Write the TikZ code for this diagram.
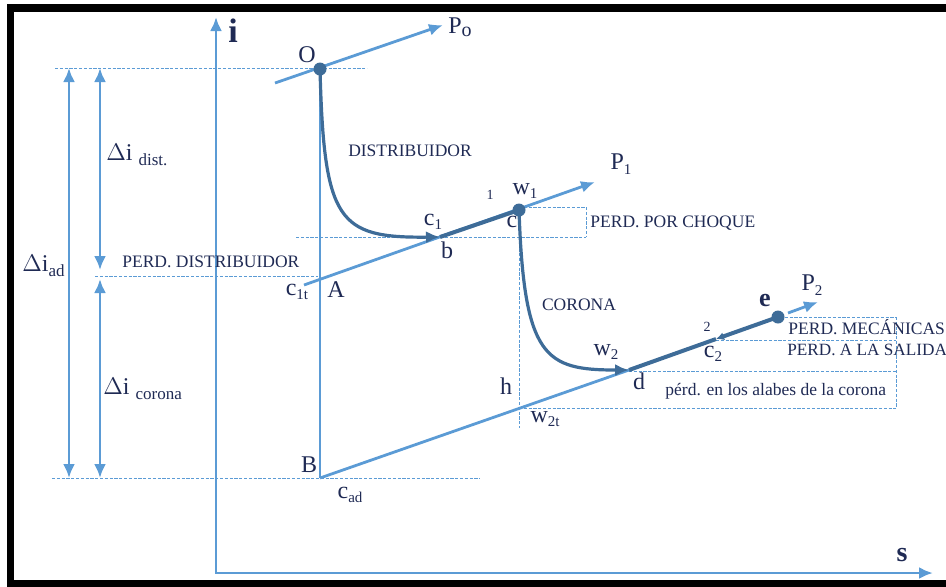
\documentclass[tikz,border=0pt]{standalone}
\usepackage{fontspec}
\setmainfont{Liberation Serif}
\usetikzlibrary{arrows.meta}
\definecolor{lineblue}{RGB}{91,155,213}
\definecolor{pathblue}{RGB}{62,108,152}
\definecolor{inkblue}{RGB}{31,42,84}
\newcommand{\low}[1]{\raisebox{-0.4ex}{\fontsize{7.5}{8}\selectfont #1}}
\newcommand{\lowtxt}[1]{\raisebox{-0.45ex}{\fontsize{8.5}{9}\selectfont #1}}

\begin{document}
\begin{tikzpicture}[x=0.5pt, y=-0.5pt,
  every node/.style={inner sep=0pt, text=inkblue},
  tip/.style={-{Latex[length=7pt,width=6pt]}},
  axis/.style={draw=lineblue, line width=1.4pt},
  isobar/.style={draw=lineblue, line width=1.4pt},
  dim/.style={draw=lineblue, line width=1.4pt, {Latex[length=7pt,width=6pt]}-{Latex[length=7pt,width=6pt]}},
  expan/.style={draw=pathblue, line width=1.6pt},
  guide/.style={draw=lineblue, line width=0.5pt, dash pattern=on 1.6pt off 0.8pt},
  state/.style={circle, fill=pathblue, minimum size=6.5pt},
  big/.style={font=\fontsize{12}{14}\selectfont},
  small/.style={font=\fontsize{8.75}{10}\selectfont},
  tiny/.style={font=\fontsize{7}{8}\selectfont}]
  \clip (0,0) rectangle (946,586);
  % frame
  \draw[line width=3.75pt] (10.5,8) rectangle (952,584);

  % points of the process
  \coordinate (org) at (216,573);
  \coordinate (itop) at (216,17);
  \coordinate (sright) at (933,573);
  \coordinate (O) at (320,69);
  \coordinate (p0s) at (275,83);
  \coordinate (p0) at (443,25);
  \coordinate (c1t) at (304,285);
  \coordinate (b) at (440,237);
  \coordinate (c) at (519,210);
  \coordinate (p1) at (595,182);
  \coordinate (B) at (320,478);
  \coordinate (d) at (629,370);
  \coordinate (c2) at (716,339);
  \coordinate (e) at (778,317);
  \coordinate (p2s) at (788,313);
  \coordinate (p2) at (818,302);

  % guides
  \foreach \ya/\xa/\xb in {68/55/367, 237/296/586, 207/519/586, 276/95/318, 478/52/480,
                           317/780/896, 340/716/896, 371/629/896, 408/519/896} {
    \draw[guide] (\xa,\ya) -- (\xb,\ya);
  }
  \foreach \xa/\ya/\yb in {586/207/237, 519/210/428, 896/317/408} {
    \draw[guide] (\xa,\ya) -- (\xa,\yb);
  }

  % axes
  \draw[axis, {Latex[length=7pt,width=6pt]}-{Latex[length=7pt,width=6pt]}] (itop) -- (org) -- (sright);
  \node[font=\bfseries\fontsize{17}{19}\selectfont] (ilbl) at (233,31) {i};
  \node[font=\bfseries\fontsize{14}{16}\selectfont] (slbl) at (902,555) {s};

  % enthalpy drops
  \draw[dim] (69,68) -- (69,478);
  \draw[dim] (100,68) -- (100,270);
  \draw[dim] (100,279) -- (100,478);
  \node[big, anchor=west] (dad) at (22,266) {$\Delta$i\lowtxt{ad}};
  \node[big, anchor=west] (ddist) at (106,155) {$\Delta$i \lowtxt{dist.}};
  \node[big, anchor=west] (dcor) at (103,389) {$\Delta$i \lowtxt{corona}};

  % isobars
  \draw[isobar, tip] (p0s) -- (p0);
  \draw[isobar, tip] (c1t) -- (p1);
  \draw[isobar] (O) -- (B);
  \draw[isobar] (B) -- (d);
  \draw[isobar, tip] (p2s) -- (p2);

  % real expansion
  \draw[expan, tip] (O) .. controls (324,222) and (338,238) .. (b);
  \draw[expan, line width=2pt] (b) -- (c);
  \draw[expan, tip] (c) .. controls (524,358) and (545,370) .. (d);
  \draw[expan, line width=2pt, -{Latex[length=4pt,width=4pt]}] (e) -- (c2);
  \draw[expan, line width=2pt] (c2) -- (d);
  \node[state] (Odot) at (O) {};
  \node[state] (cdot) at (c) {};
  \node[state] (edot) at (e) {};

  % labels
  \node[big] (Olbl) at (307,55) {O};
  \node[big] (P0lbl) at (460,27) {P\raisebox{-0.3ex}{\fontsize{10}{11}\selectfont o}};
  \node[big] (P1lbl) at (621,164) {P\low{1}};
  \node[big] (P2lbl) at (812,285) {P\low{2}};
  \node[big] (c1lbl) at (433,222) {c\low{1}};
  \node[big] (blbl) at (447,250) {b};
  \node[big] (c1tlbl) at (297,292) {c\low{1t}};
  \node[big] (Albl) at (336,290) {A};
  \node[big] (Blbl) at (309,465) {B};
  \node[big] (cadlbl) at (350,495) {c\low{ad}};
  \node[tiny] (one) at (490,195) {1};
  \node[big] (w1lbl) at (525,191) {w\low{1}};
  \node[big] (clbl) at (512,222) {c};
  \node[big] (w2lbl) at (606,352) {w\low{2}};
  \node[big] (dlbl) at (639,381) {d};
  \node[tiny] (two) at (707,327) {2};
  \node[big] (c2lbl) at (713,354) {c\low{2}};
  \node[font=\bfseries\fontsize{13}{15}\selectfont] (elbl) at (765,300) {e};
  \node[big] (hlbl) at (506,386) {h};
  \node[big] (w2tlbl) at (545,419) {w\low{2t}};

  \node[small] (distlbl) at (410,151) {DISTRIBUIDOR};
  \node[small, anchor=west] (perddist) at (122,262) {PERD. DISTRIBUIDOR};
  \node[small, anchor=west] (choque) at (590,223) {PERD. POR CHOQUE};
  \node[small] (corlbl) at (579,305) {CORONA};
  \node[small, anchor=west] (mec) at (788,327) {PERD. MECÁNICAS};
  \node[small, anchor=west, font=\fontsize{8.6}{10}\selectfont] (salida) at (787,350) {PERD. A LA SALIDA};
  \node[small, anchor=west] (alabes) at (665,391) {pérd. en los alabes de la corona};
\end{tikzpicture}
\end{document}
